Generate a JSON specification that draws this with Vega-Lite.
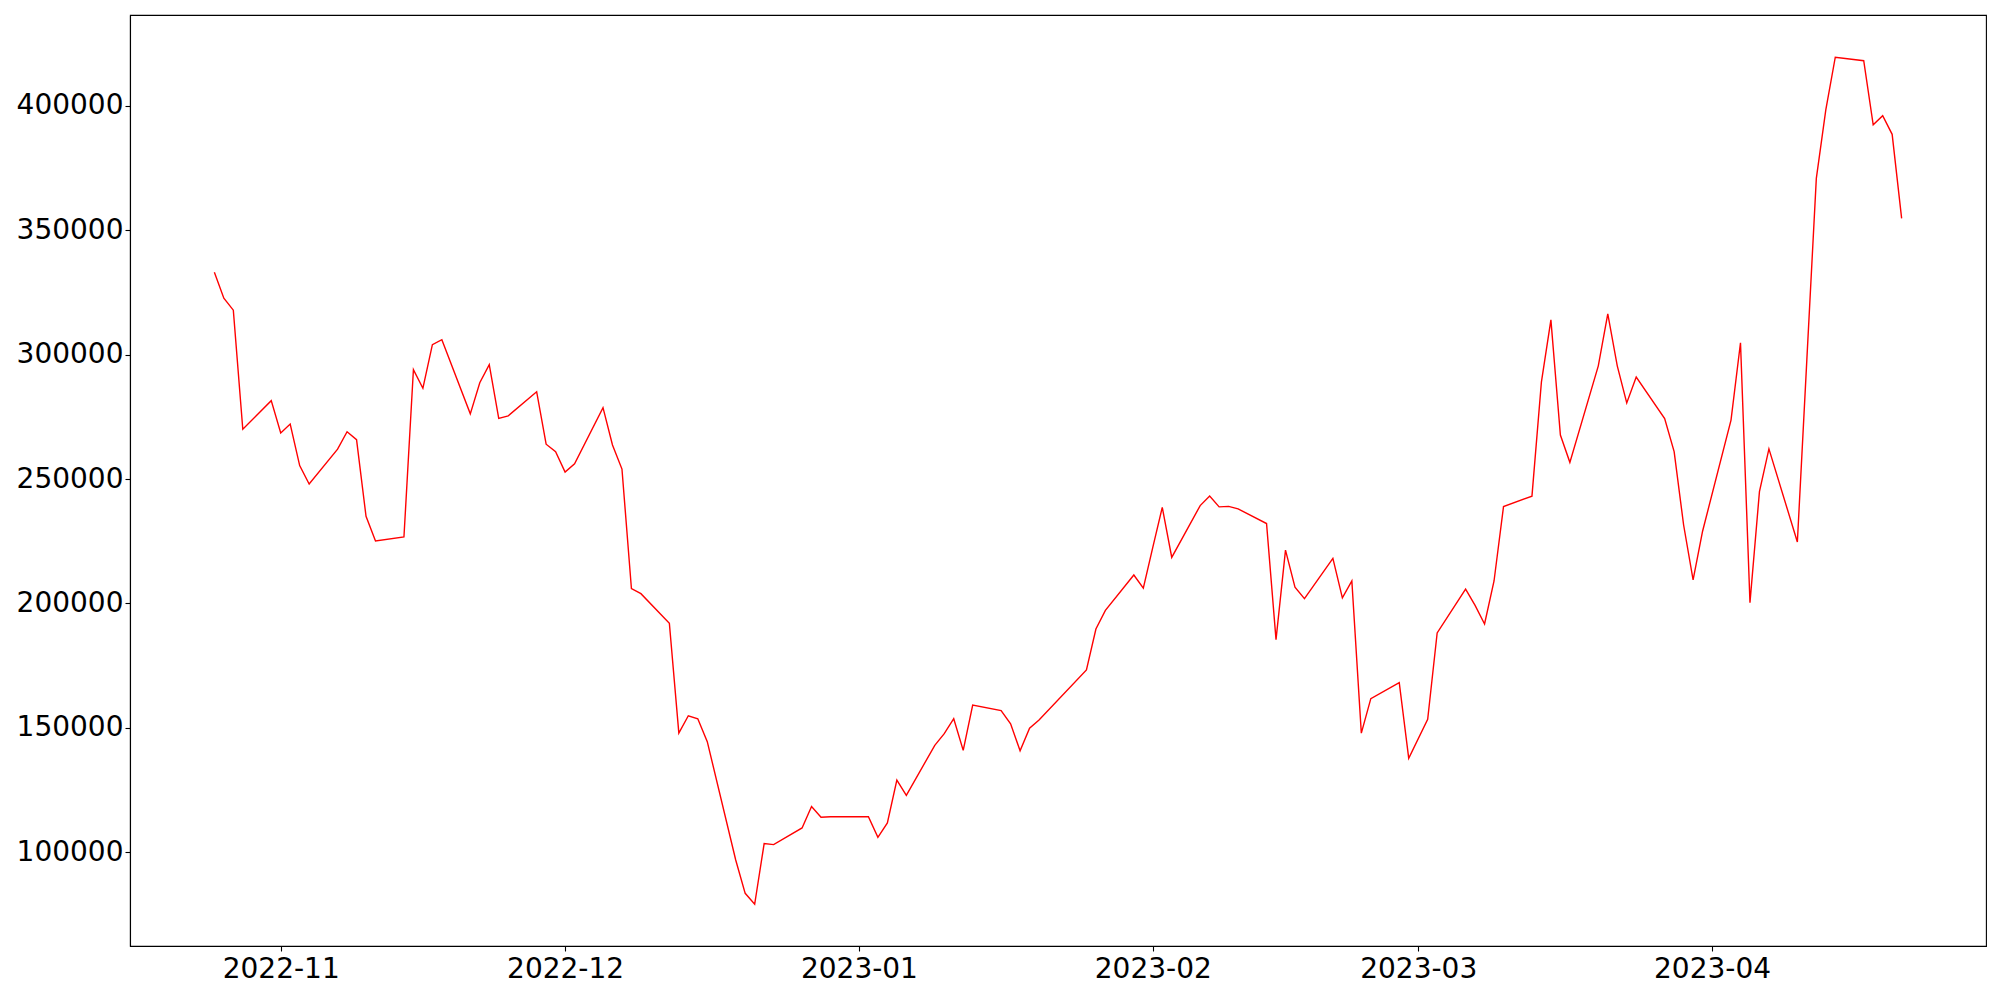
{
  "$schema": "https://vega.github.io/schema/vega-lite/v6.json",
  "width": 1856,
  "height": 931,
  "autosize": {"type": "none"},
  "padding": {"left": 130, "top": 15, "right": 14, "bottom": 54},
  "background": "white",
  "config": {
    "view": {"stroke": "black", "strokeWidth": 1.1},
    "axis": {
      "grid": false,
      "title": null,
      "labelFont": "DejaVu Sans",
      "labelFontSize": 28,
      "labelColor": "black",
      "tickColor": "black",
      "domainColor": "black",
      "domainWidth": 1.1,
      "tickWidth": 1.1,
      "tickSize": 5,
      "labelPadding": 4,
      "labelFlush": false,
      "labelOverlap": false
    }
  },
  "data": {
    "values": [
      {"date": "2022-10-25", "value": 333100},
      {"date": "2022-10-26", "value": 322700},
      {"date": "2022-10-27", "value": 317900},
      {"date": "2022-10-28", "value": 270000},
      {"date": "2022-10-31", "value": 281500},
      {"date": "2022-11-01", "value": 268500},
      {"date": "2022-11-02", "value": 272100},
      {"date": "2022-11-03", "value": 255400},
      {"date": "2022-11-04", "value": 248000},
      {"date": "2022-11-07", "value": 262000},
      {"date": "2022-11-08", "value": 269000},
      {"date": "2022-11-09", "value": 265800},
      {"date": "2022-11-10", "value": 235000},
      {"date": "2022-11-11", "value": 225100},
      {"date": "2022-11-14", "value": 226700},
      {"date": "2022-11-15", "value": 294000},
      {"date": "2022-11-16", "value": 286500},
      {"date": "2022-11-17", "value": 304000},
      {"date": "2022-11-18", "value": 306000},
      {"date": "2022-11-21", "value": 276200},
      {"date": "2022-11-22", "value": 288700},
      {"date": "2022-11-23", "value": 296000},
      {"date": "2022-11-24", "value": 274400},
      {"date": "2022-11-25", "value": 275400},
      {"date": "2022-11-28", "value": 285100},
      {"date": "2022-11-29", "value": 264000},
      {"date": "2022-11-30", "value": 261000},
      {"date": "2022-12-01", "value": 252800},
      {"date": "2022-12-02", "value": 256100},
      {"date": "2022-12-05", "value": 278700},
      {"date": "2022-12-06", "value": 263700},
      {"date": "2022-12-07", "value": 254000},
      {"date": "2022-12-08", "value": 205900},
      {"date": "2022-12-09", "value": 203900},
      {"date": "2022-12-12", "value": 192000},
      {"date": "2022-12-13", "value": 147800},
      {"date": "2022-12-14", "value": 154800},
      {"date": "2022-12-15", "value": 153600},
      {"date": "2022-12-16", "value": 144400},
      {"date": "2022-12-19", "value": 96800},
      {"date": "2022-12-20", "value": 83400},
      {"date": "2022-12-21", "value": 79000},
      {"date": "2022-12-22", "value": 103400},
      {"date": "2022-12-23", "value": 103000},
      {"date": "2022-12-26", "value": 109700},
      {"date": "2022-12-27", "value": 118300},
      {"date": "2022-12-28", "value": 114000},
      {"date": "2022-12-29", "value": 114200},
      {"date": "2023-01-02", "value": 114200},
      {"date": "2023-01-03", "value": 105900},
      {"date": "2023-01-04", "value": 111700},
      {"date": "2023-01-05", "value": 128900},
      {"date": "2023-01-06", "value": 122800},
      {"date": "2023-01-09", "value": 142900},
      {"date": "2023-01-10", "value": 147600},
      {"date": "2023-01-11", "value": 153600},
      {"date": "2023-01-12", "value": 140900},
      {"date": "2023-01-13", "value": 159100},
      {"date": "2023-01-16", "value": 156900},
      {"date": "2023-01-17", "value": 151600},
      {"date": "2023-01-18", "value": 140700},
      {"date": "2023-01-19", "value": 149800},
      {"date": "2023-01-20", "value": 153100},
      {"date": "2023-01-25", "value": 173200},
      {"date": "2023-01-26", "value": 189700},
      {"date": "2023-01-27", "value": 197200},
      {"date": "2023-01-30", "value": 211400},
      {"date": "2023-01-31", "value": 206100},
      {"date": "2023-02-01", "value": 222500},
      {"date": "2023-02-02", "value": 238600},
      {"date": "2023-02-03", "value": 218500},
      {"date": "2023-02-06", "value": 239300},
      {"date": "2023-02-07", "value": 243200},
      {"date": "2023-02-08", "value": 238800},
      {"date": "2023-02-09", "value": 239000},
      {"date": "2023-02-10", "value": 238000},
      {"date": "2023-02-13", "value": 232100},
      {"date": "2023-02-14", "value": 185400},
      {"date": "2023-02-15", "value": 221400},
      {"date": "2023-02-16", "value": 206500},
      {"date": "2023-02-17", "value": 201900},
      {"date": "2023-02-20", "value": 218100},
      {"date": "2023-02-21", "value": 202200},
      {"date": "2023-02-22", "value": 209000},
      {"date": "2023-02-23", "value": 147800},
      {"date": "2023-02-24", "value": 161700},
      {"date": "2023-02-27", "value": 168100},
      {"date": "2023-02-28", "value": 137700},
      {"date": "2023-03-02", "value": 153400},
      {"date": "2023-03-03", "value": 188100},
      {"date": "2023-03-06", "value": 205700},
      {"date": "2023-03-07", "value": 199200},
      {"date": "2023-03-08", "value": 191700},
      {"date": "2023-03-09", "value": 209000},
      {"date": "2023-03-10", "value": 238900},
      {"date": "2023-03-13", "value": 243100},
      {"date": "2023-03-14", "value": 289100},
      {"date": "2023-03-15", "value": 314000},
      {"date": "2023-03-16", "value": 267700},
      {"date": "2023-03-17", "value": 256700},
      {"date": "2023-03-20", "value": 295500},
      {"date": "2023-03-21", "value": 316400},
      {"date": "2023-03-22", "value": 295500},
      {"date": "2023-03-23", "value": 280600},
      {"date": "2023-03-24", "value": 291000},
      {"date": "2023-03-27", "value": 274300},
      {"date": "2023-03-28", "value": 261000},
      {"date": "2023-03-29", "value": 231500},
      {"date": "2023-03-30", "value": 209400},
      {"date": "2023-03-31", "value": 229000},
      {"date": "2023-04-03", "value": 273700},
      {"date": "2023-04-04", "value": 304800},
      {"date": "2023-04-05", "value": 200300},
      {"date": "2023-04-06", "value": 244900},
      {"date": "2023-04-07", "value": 262100},
      {"date": "2023-04-10", "value": 224700},
      {"date": "2023-04-11", "value": 298000},
      {"date": "2023-04-12", "value": 370900},
      {"date": "2023-04-13", "value": 398400},
      {"date": "2023-04-14", "value": 419600},
      {"date": "2023-04-17", "value": 418200},
      {"date": "2023-04-18", "value": 392400},
      {"date": "2023-04-19", "value": 396100},
      {"date": "2023-04-20", "value": 388600},
      {"date": "2023-04-21", "value": 354800}
    ]
  },
  "mark": {"type": "line", "color": "red", "strokeWidth": 1.4},
  "encoding": {
    "x": {
      "field": "date",
      "type": "temporal",
      "scale": {
        "type": "utc",
        "domain": [
          {"year": 2022, "month": 10, "date": 16, "hours": 2, "minutes": 24, "utc": true},
          {"year": 2023, "month": 4, "date": 29, "hours": 21, "minutes": 36, "utc": true}
        ]
      },
      "axis": {
        "values": [
          {"year": 2022, "month": 11, "date": 1, "utc": true},
          {"year": 2022, "month": 12, "date": 1, "utc": true},
          {"year": 2023, "month": 1, "date": 1, "utc": true},
          {"year": 2023, "month": 2, "date": 1, "utc": true},
          {"year": 2023, "month": 3, "date": 1, "utc": true},
          {"year": 2023, "month": 4, "date": 1, "utc": true}
        ],
        "labelExpr": "utcFormat(datum.value, '%Y-%m')"
      }
    },
    "y": {
      "field": "value",
      "type": "quantitative",
      "scale": {"domain": [62220, 436580], "nice": false, "zero": false},
      "axis": {
        "values": [100000, 150000, 200000, 250000, 300000, 350000, 400000],
        "format": "d",
        "labelPadding": 2
      }
    }
  }
}
